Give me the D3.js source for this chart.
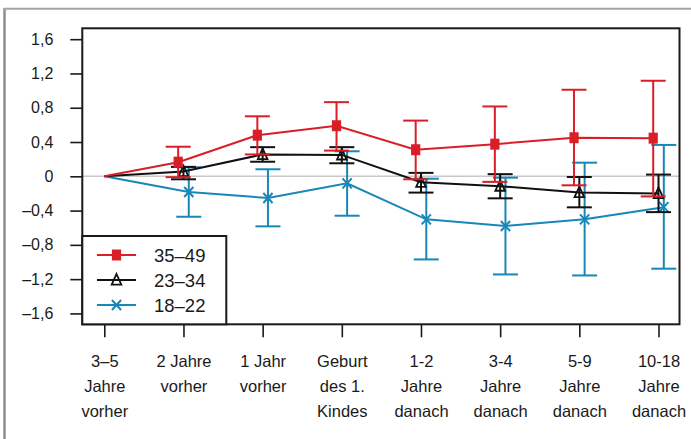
<!DOCTYPE html>
<html>
<head>
<meta charset="utf-8">
<script src="https://cdn.jsdelivr.net/npm/d3@7"></script>
<style>
  html, body { margin: 0; padding: 0; background: #fff; }
  svg { display: block; }
  text { font-family: "Liberation Sans", Arial, sans-serif; fill: #1a1a1a; }
</style>
</head>
<body>
<svg id="chart" width="691" height="439"></svg>
<script>
// ---- data ----
const categories = [
  ["3–5", "Jahre", "vorher"],
  ["2 Jahre", "vorher"],
  ["1 Jahr", "vorher"],
  ["Geburt", "des 1.", "Kindes"],
  ["1-2", "Jahre", "danach"],
  ["3-4", "Jahre", "danach"],
  ["5-9", "Jahre", "danach"],
  ["10-18", "Jahre", "danach"]
];
const seriesNames = ["35–49", "23–34", "18–22"];

const values3549 = [0, 0.165, 0.48, 0.59, 0.31, 0.375, 0.45, 0.445];
const upper3549  = [null, 0.345, 0.70, 0.865, 0.65, 0.815, 1.01, 1.115];
const lower3549  = [null, -0.01, 0.255, 0.30, -0.035, -0.065, -0.105, -0.235];

const values2334 = [0, 0.055, 0.255, 0.25, -0.07, -0.115, -0.19, -0.2];
const upper2334  = [null, 0.11, 0.34, 0.34, 0.04, 0.025, -0.008, 0.02];
const lower2334  = [null, -0.035, 0.17, 0.152, -0.19, -0.257, -0.362, -0.418];

const values1822 = [0, -0.183, -0.253, -0.082, -0.502, -0.58, -0.502, -0.36];
const upper1822  = [null, 0.105, 0.082, 0.292, -0.028, -0.016, 0.159, 0.366];
const lower1822  = [null, -0.472, -0.584, -0.46, -0.97, -1.145, -1.157, -1.078];

const yTickValues = [-1.6, -1.2, -0.8, -0.4, 0, 0.4, 0.8, 1.2, 1.6];

// ---- layout ----
const svg = d3.select("#chart");
const box = { left: 82.3, right: 679.5, top: 28.3, bottom: 324.3 };
const colors = { red: "#d91e27", black: "#111111", blue: "#1787b7" };

const catKeys = categories.map((c, i) => i);
const x = d3.scalePoint().domain(catKeys).range([104.3, 658.5]);
const y = d3.scaleLinear().domain([-1.727, 1.727]).range([box.bottom, box.top]);

// outer gray frame
svg.append("line").attr("x1", 4.5).attr("x2", 4.5).attr("y1", 8).attr("y2", 439)
  .attr("stroke", "#8e8e8e").attr("stroke-width", 2.5);
svg.append("line").attr("x1", 4).attr("x2", 691).attr("y1", 8.7).attr("y2", 8.7)
  .attr("stroke", "#a5a5a5").attr("stroke-width", 2);

// zero line
svg.append("line").attr("x1", box.left).attr("x2", box.right)
  .attr("y1", y(0)).attr("y2", y(0)).attr("stroke", "#c8c8c8").attr("stroke-width", 1.5);

// y axis
const fmt = v => (v < 0 ? "–" : "") + d3.format(".1f")(Math.abs(v)).replace(".", ",").replace(/^0,0$/, "0");
const yAxis = d3.axisLeft(y).tickValues(yTickValues).tickSize(12).tickPadding(17)
  .tickFormat(v => v === 0 ? "0" : fmt(v));
const gy = svg.append("g").attr("transform", `translate(${box.left},0)`).call(yAxis);
gy.select(".domain").remove();
gy.selectAll(".tick line").attr("stroke", "#1a1a1a").attr("stroke-width", 1.6);
gy.selectAll(".tick text").style("font-size", "16px").attr("fill", "#1a1a1a");

// x axis
const xAxis = d3.axisBottom(x).tickSize(13).tickFormat("");
const gx = svg.append("g").attr("transform", `translate(0,${box.bottom})`).call(xAxis);
gx.select(".domain").remove();
gx.selectAll(".tick line").attr("stroke", "#1a1a1a").attr("stroke-width", 1.6);
const xl = gx.selectAll(".tick").append("text")
  .attr("text-anchor", "middle").style("font-size", "16.5px").attr("fill", "#1a1a1a")
  .attr("y", 42.4);
xl.each(function(d) {
  const t = d3.select(this);
  categories[d].forEach((line, k) => {
    t.append("tspan").attr("x", 0).attr("dy", k === 0 ? 0 : 25).text(line);
  });
});

// series
const series = [
  { name: seriesNames[2], vals: values1822, up: upper1822, lo: lower1822, color: colors.blue, off: 5.3, marker: "x" },
  { name: seriesNames[1], vals: values2334, up: upper2334, lo: lower2334, color: colors.black, off: 0, marker: "tri" },
  { name: seriesNames[0], vals: values3549, up: upper3549, lo: lower3549, color: colors.red, off: -5.3, marker: "sq" }
];

function drawMarker(g, type, color) {
  if (type === "sq") {
    g.append("rect").attr("x", -4.6).attr("y", -5.5).attr("width", 9.2).attr("height", 11).attr("fill", color);
  } else if (type === "tri") {
    g.append("path").attr("d", "M0,-6 L4.8,4.6 L-4.8,4.6 Z")
      .attr("fill", "none").attr("stroke", color).attr("stroke-width", 1.8);
  } else {
    g.append("path").attr("d", "M-4.6,-5 L4.6,5 M-4.6,5 L4.6,-5")
      .attr("fill", "none").attr("stroke", color).attr("stroke-width", 2);
  }
}

const px = (s, i) => x(i) + (i === 0 ? 0 : s.off);

series.forEach(s => {
  const g = svg.append("g");
  // error bars
  s.vals.forEach((v, i) => {
    if (s.up[i] == null) return;
    const cx = px(s, i);
    g.append("line").attr("x1", cx).attr("x2", cx).attr("y1", y(s.up[i])).attr("y2", y(s.lo[i]))
      .attr("stroke", s.color).attr("stroke-width", 2);
    [s.up[i], s.lo[i]].forEach(e => {
      g.append("line").attr("x1", cx - 12.5).attr("x2", cx + 12.5).attr("y1", y(e)).attr("y2", y(e))
        .attr("stroke", s.color).attr("stroke-width", 2);
    });
  });
  // line
  const line = d3.line().x((v, i) => px(s, i)).y(v => y(v));
  g.append("path").datum(s.vals).attr("d", line).attr("fill", "none")
    .attr("stroke", s.color).attr("stroke-width", 2);
  // markers
  s.vals.forEach((v, i) => {
    if (i === 0) return;
    const m = g.append("g").attr("transform", `translate(${px(s, i)},${y(v)})`);
    drawMarker(m, s.marker, s.color);
  });
});

// plot box
svg.append("rect").attr("x", box.left).attr("y", box.top)
  .attr("width", box.right - box.left).attr("height", box.bottom - box.top)
  .attr("fill", "none").attr("stroke", "#1a1a1a").attr("stroke-width", 2);

// legend
const leg = svg.append("g");
leg.append("rect").attr("x", box.left).attr("y", 236).attr("width", 144).attr("height", box.bottom - 236)
  .attr("fill", "#fff").attr("stroke", "#1a1a1a").attr("stroke-width", 2);
const legItems = [series[2], series[1], series[0]];
legItems.forEach((s, k) => {
  const ly = 255 + k * 25;
  leg.append("line").attr("x1", 97).attr("x2", 136).attr("y1", ly).attr("y2", ly)
    .attr("stroke", s.color).attr("stroke-width", 2);
  const m = leg.append("g").attr("transform", `translate(116.5,${ly})`);
  drawMarker(m, s.marker, s.color);
  leg.append("text").attr("x", 154).attr("y", ly).attr("dy", "0.36em")
    .style("font-size", "18.5px").text(s.name);
});
</script>
</body>
</html>
